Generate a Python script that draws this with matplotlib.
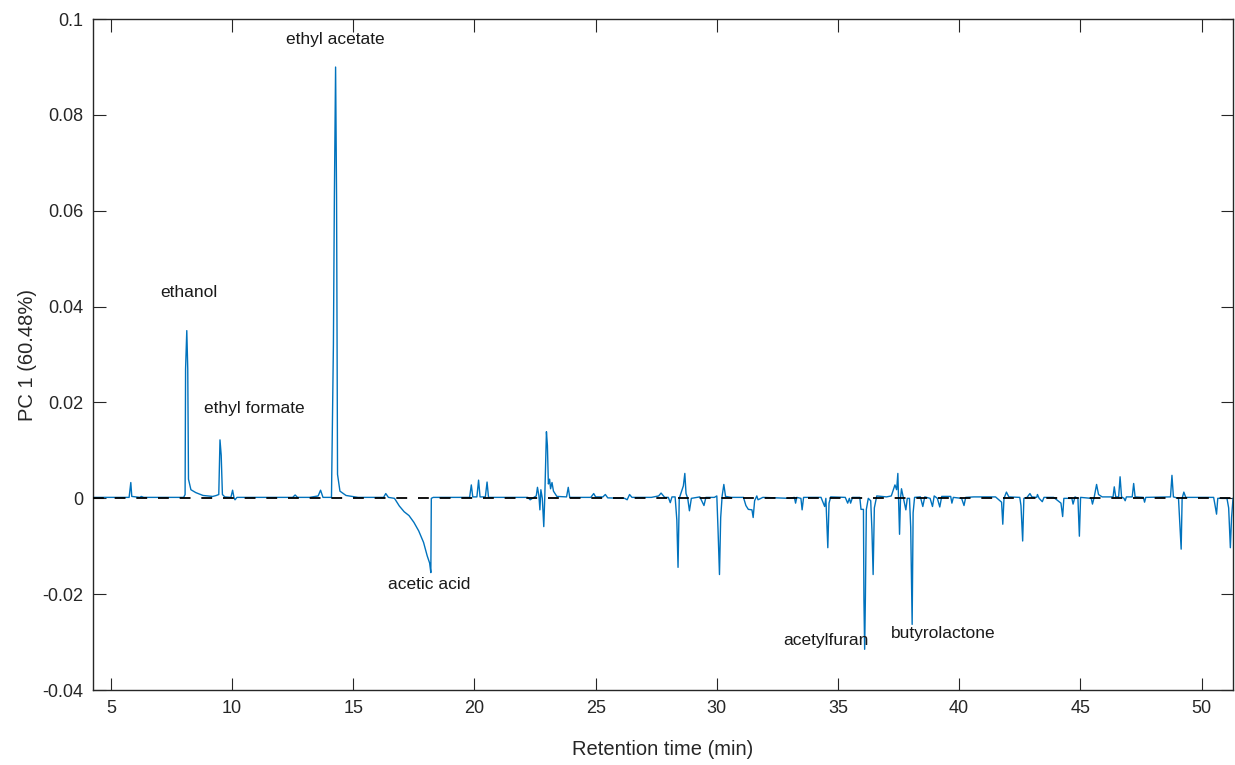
import numpy as np
import matplotlib
matplotlib.use("Agg")
import matplotlib.pyplot as plt

plt.rcParams['font.family'] = ['Liberation Sans', 'DejaVu Sans']

# PC1 loading trace, vertices (retention time in min, loading)
rt_a = [4.26, 5.75, 5.82, 5.86, 6.2, 6.25, 6.35,
        8.0, 8.06, 8.08, 8.13, 8.17, 8.2, 8.3, 8.5, 8.8, 9.2,
        9.35, 9.45, 9.5, 9.55, 9.6, 9.7, 9.95, 10.02, 10.08, 10.12, 10.2,
        12.5, 12.6, 12.7, 13.2, 13.55, 13.65, 13.75,
        14.1, 14.18, 14.22, 14.27, 14.31, 14.35, 14.45, 14.7, 15.2]
pc_a = [0.0002, 0.0002, 0.0033, 0.0004, 0.0002, 0.0004, 0.0002,
        0.0002, 0.0008, 0.027, 0.035, 0.027, 0.004, 0.0018, 0.0012, 0.0006, 0.0004,
        0.0006, 0.0008, 0.0122, 0.009, 0.0008, 0.0003, 0.0002, 0.0017, 0.0001, -0.0003, 0.0002,
        0.0002, 0.0007, 0.0002, 0.0002, 0.0005, 0.0017, 0.0002,
        0.0002, 0.032, 0.063, 0.090, 0.063, 0.005, 0.0015, 0.0006, 0.0002]

rt_b = [16.25, 16.34, 16.45, 16.7, 16.9, 17.1, 17.3, 17.5, 17.7, 17.9, 18.05, 18.15, 18.2, 18.22, 18.3,
        19.8, 19.87, 19.93, 20.1, 20.17, 20.23, 20.45, 20.52, 20.58,
        22.2, 22.3, 22.45, 22.55, 22.6, 22.66, 22.7, 22.74, 22.8, 22.86, 22.9, 22.97, 23.01,
        23.05, 23.1, 23.14, 23.2, 23.26, 23.4, 23.8, 23.87, 23.93]
pc_b = [0.0002, 0.001, 0.0002, 0.0, -0.0016, -0.0028, -0.0036, -0.0050, -0.0068, -0.0092, -0.012, -0.0135, -0.0155, 0.0, 0.0002,
        0.0002, 0.0028, 0.0003, 0.0003, 0.0038, 0.0003, 0.0003, 0.0034, 0.0002,
        0.0002, -0.0003, 0.0002, 0.0005, 0.0023, 0.0005, -0.0024, 0.0018, 0.0, -0.0059, 0.0, 0.0139, 0.011,
        0.003, 0.004, 0.002, 0.0033, 0.0015, 0.0004, 0.0003, 0.0023, 0.0002]

rt_c = [24.8, 24.92, 25.0, 25.3, 25.4, 25.5, 26.2, 26.3, 26.4, 26.5, 27.3, 27.6, 27.7, 27.85,
        28.0, 28.08, 28.15, 28.28, 28.35, 28.4, 28.45, 28.62, 28.68, 28.73, 28.8, 28.87, 28.95,
        29.3, 29.47, 29.55, 29.9, 30.0, 30.05, 30.11, 30.16, 30.22, 30.29, 30.36, 30.6,
        31.1, 31.2, 31.3, 31.45, 31.5, 31.56, 31.65, 31.7, 31.9,
        33.0, 33.2, 33.25, 33.3, 33.47, 33.52, 33.58, 34.3, 34.45, 34.5, 34.58, 34.63, 34.7]
pc_c = [0.0002, 0.001, 0.0003, 0.0003, 0.0008, 0.0001, 0.0, -0.0003, 0.0008, 0.0002, 0.0002, 0.0005, 0.0011, 0.0002,
        0.0002, -0.0009, 0.0003, 0.0003, -0.0045, -0.0144, 0.0, 0.0026, 0.0052, 0.001, 0.0, -0.0026, 0.0,
        0.0003, -0.0015, 0.0002, 0.0002, 0.0005, -0.0065, -0.0159, -0.004, 0.0005, 0.0029, 0.0004, 0.0002,
        0.0002, -0.0015, -0.0023, -0.0024, -0.004, -0.0005, 0.0005, -0.0003, 0.0002,
        0.0, 0.0002, -0.001, 0.0002, 0.0, -0.0024, 0.0002, 0.0002, -0.0017, 0.0, -0.0103, -0.001, 0.0003]

rt_d = [35.3, 35.4, 35.47, 35.52, 35.6, 35.9, 35.95, 36.05, 36.07, 36.1, 36.13, 36.17, 36.25,
        36.35, 36.4, 36.45, 36.5, 36.6, 37.0, 37.2, 37.35, 37.42, 37.47, 37.5, 37.54, 37.58,
        37.62, 37.7, 37.8, 37.86, 37.95, 38.0, 38.06, 38.1, 38.16,
        38.4, 38.5, 38.58, 38.8, 38.9, 38.97, 39.1, 39.2, 39.28, 39.65, 39.7, 39.76,
        40.1, 40.2, 40.27, 40.6, 41.5, 41.75, 41.8, 41.85, 41.95, 42.05]
pc_d = [0.0002, -0.001, 0.0, -0.001, 0.0002, 0.0002, -0.0023, -0.0023, -0.021, -0.0315, -0.021, -0.0023, 0.0,
        -0.0005, -0.0065, -0.0159, -0.002, 0.0005, 0.0003, 0.0005, 0.0028, 0.0018, 0.0052, 0.0, -0.0075, 0.0,
        0.002, 0.0, -0.0024, 0.0, 0.0, -0.006, -0.0263, -0.003, 0.0002,
        0.0003, -0.0017, 0.0003, 0.0, -0.0017, 0.0005, 0.0, -0.0018, 0.0004, 0.0004, -0.001, 0.0002,
        0.0, -0.0015, 0.0002, 0.0003, 0.0003, -0.0008, -0.0054, 0.0, 0.0013, 0.0003]

rt_e = [42.5, 42.55, 42.62, 42.67, 42.8, 42.92, 43.0, 43.2, 43.23, 43.3, 43.43, 43.5,
        43.9, 44.2, 44.27, 44.32, 44.65, 44.7, 44.78, 44.9, 44.96, 45.01,
        45.45, 45.5, 45.57, 45.67, 45.75, 45.9, 46.35, 46.4, 46.46, 46.58, 46.64, 46.7,
        46.8, 46.85, 46.9, 47.14, 47.2, 47.26, 47.6, 47.65, 47.7, 48.72, 48.78, 48.84,
        49.05, 49.16, 49.2, 49.27, 49.35, 50.5, 50.55, 50.62, 50.67, 51.05, 51.12, 51.19, 51.24, 51.3]
pc_e = [0.0002, -0.0015, -0.0089, 0.0, 0.0002, 0.001, 0.0003, 0.0002, 0.0008, 0.0, -0.0007, 0.0002,
        0.0002, -0.001, -0.0038, 0.0, 0.0, -0.0012, 0.0003, 0.0, -0.0079, 0.0002,
        0.0, -0.0012, 0.0002, 0.0029, 0.0008, 0.0003, 0.0003, 0.0024, 0.0003, 0.0003, 0.0045, 0.0003,
        0.0, -0.0005, 0.0003, 0.0003, 0.0031, 0.0003, 0.0002, -0.0008, 0.0002, 0.0003, 0.0048, 0.0003,
        0.0, -0.0106, 0.0, 0.0013, 0.0002, 0.0002, -0.0012, -0.0033, 0.0, 0.0, -0.002, -0.0103, -0.004, 0.0]

rt = rt_a + rt_b + rt_c + rt_d + rt_e
pc1 = pc_a + pc_b + pc_c + pc_d + pc_e

# peak labels
labels = ['ethyl acetate', 'ethanol', 'ethyl formate', 'acetic acid', 'acetylfuran', 'butyrolactone']
label_rt = [14.25, 8.2, 10.9, 18.15, 34.5, 39.35]
label_pc = [0.0958, 0.043, 0.0188, -0.018, -0.0296, -0.0282]

xticks = [5, 10, 15, 20, 25, 30, 35, 40, 45, 50]
yticks = [-0.04, -0.02, 0, 0.02, 0.04, 0.06, 0.08, 0.1]
ytick_labels = ['-0.04', '-0.02', '0', '0.02', '0.04', '0.06', '0.08', '0.1']

fig = plt.figure(figsize=(12.35, 7.65), dpi=100)
ax = fig.add_axes([0.0753, 0.098, 0.9231, 0.877])

ax.plot(rt, pc1, color='#0072BD', lw=1.0, zorder=2)
ax.axhline(0, color='black', lw=1.3, ls=(0, (6, 6)), zorder=3)

for txt, x, y in zip(labels, label_rt, label_pc):
    ax.text(x, y, txt, ha='center', va='center', fontsize=12.5, color='#1a1a1a')

ax.set_xlim(4.26, 51.3)
ax.set_ylim(-0.04, 0.1)
ax.set_xticks(xticks)
ax.set_yticks(yticks)
ax.set_yticklabels(ytick_labels)
ax.tick_params(direction='in', length=9, width=0.8, colors='#262626', labelsize=13,
               top=True, right=True, pad=7)
for s in ax.spines.values():
    s.set_color('#262626')
    s.set_linewidth(1.0)

ax.set_xlabel('Retention time (min)', fontsize=14.5, color='#262626', labelpad=17)
ax.set_ylabel('PC 1 (60.48%)', fontsize=14.5, color='#262626', labelpad=4)

fig.savefig('out.png', dpi=100)
